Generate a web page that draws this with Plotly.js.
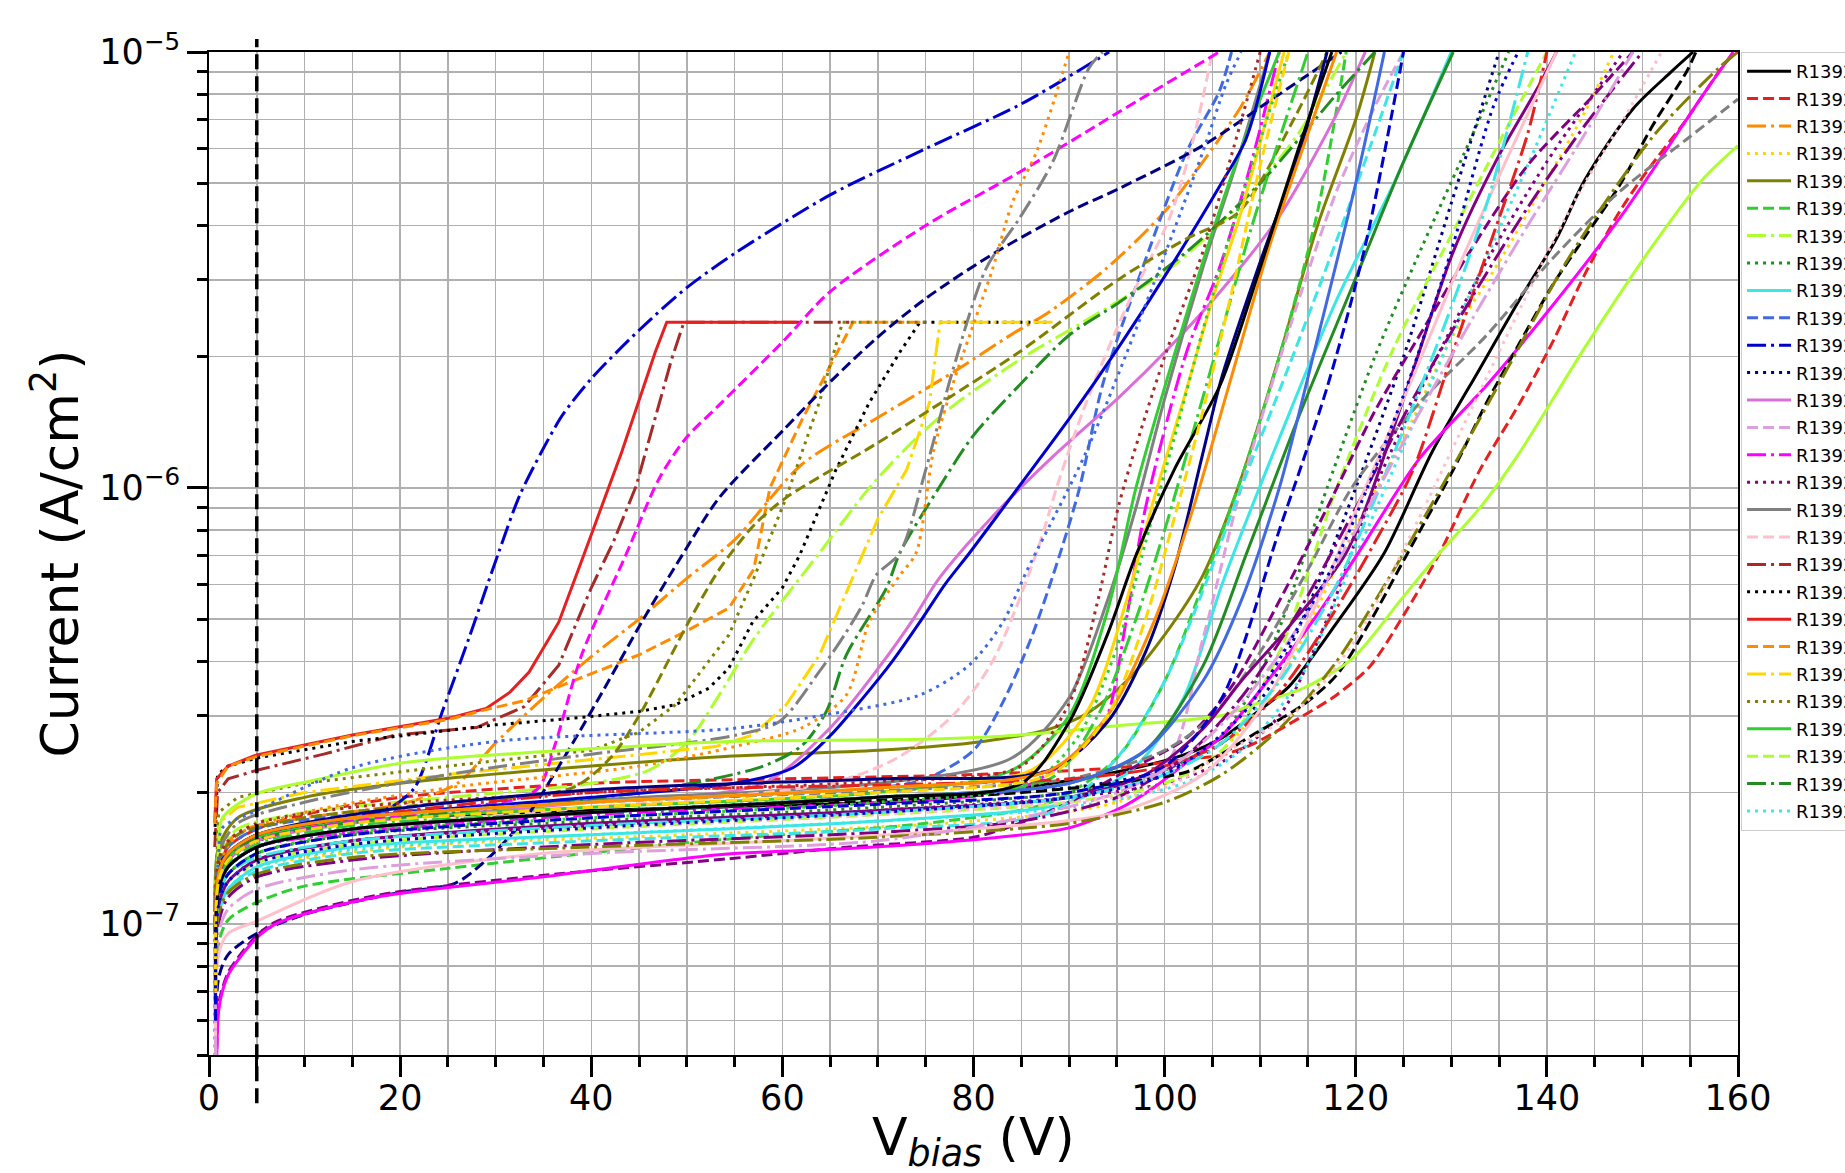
<!DOCTYPE html>
<html>
<head>
<meta charset="utf-8">
<script src="https://cdn.plot.ly/plotly-3.0.1.min.js"></script>
<style>html,body{margin:0;padding:0;background:#fff;overflow:hidden}#chart{width:1845px;height:1173px}</style>
</head>
<body>
<div id="chart"></div>
<script>
// ---------- data ----------
const seriesNames = ['R1392_01','R1392_02','R1392_03','R1392_04','R1392_05','R1392_06','R1392_07','R1392_08','R1392_09','R1392_10',
'R1392_11','R1392_12','R1392_13','R1392_14','R1392_15','R1392_16','R1392_17','R1392_18','R1392_19','R1392_20',
'R1392_21','R1392_22','R1392_23','R1392_24','R1392_25','R1392_26','R1392_27','R1392_28','R1392_29','R1392_30',
'R1392_31','R1392_32','R1392_33','R1392_34','R1392_35','R1392_36','R1392_37','R1392_38','R1392_39','R1392_40',
'R1392_41','R1392_42','R1392_43','R1392_44','R1392_45','R1392_46','R1392_47','R1392_48','R1392_49','R1392_50',
'R1392_51','R1392_52','R1392_53','R1392_54','R1392_55','R1392_56','R1392_57','R1392_58','R1392_59','R1392_60','R1392_61'];

const seriesV = [
[0.7,1,2,5,10,20,40,60,75,85,95,102,106,110,113,118,123,128,133,137,141,144,149,153,155.3],
[0.7,1,2,5,10,20,40,60,80,95,102,106,109,114.5,118,121.5,125,128.8,133,137.2,140.6,144.1,147.6,150.4,154.6,158.8,160],
[0.7,1,3,10,20,26,30,35,40,45,50,55,62,70,78,84,88,94,100,104,108,111],
[0.7,1,2,5,20,50,80,95,105,112,119.7,125,130,135,140,144,147],
[0.7,1,3,10,20,40,54,70,81,88,92,96,100,104,108,112,116,120,122],
[0.75,1,2,5,10,25,55,75,88,95,100,104,108,112,116,119],
[0.7,1,3,10,25,40,46,50,53.4,57,63.9,69.1,74,78,85,92,100.5,108,114,119],
[0.8,1,2,5,15,40,70,90,100,106,111,117,122,127,132,136],
[0.7,1,2,5,15,40,70,90,97,102,106,112,118,124,130],
[0.7,1,2,5,15,40,70,75,80,83,86,89,91.1,93.5,97,102.3,105.7,107],
[0.7,1,2,5,10,15,19,21.5,24.4,27.2,30.3,32.5,34.8,37,40,45,50,55,65,75,85,94.2],
[0.7,1,2,5,15,40,70,90,100,106,111,116,120,125,130,135],
[0.7,1,2,5,15,40,58,64.9,70.2,73.7,76.4,82,88.3,95.3,100.5,105.7,112,118,121],
[0.7,1,2,5,15,40,70,90,100,104,108,113,118,122,125],
[0.7,1,2,5,15,40,70,85,92,94,96,98,102.3,105.7,109,112],
[0.7,1,2,5,15,40,70,90,100,106,112,117,122,128,134,140,148],
[0.7,1,2,5,15,40,70,84,90,94,97,100,104,108,111],
[0.7,1,2,5,15,40,65,72,77.8,82,86.6,89,91.8,96,100.5,103,105],
[0.6,0.9,2,5,12,19.5,28,33,36.6,40,42.3,44.7,48.4,49.7,67],
[0.6,0.9,2,5,15,30,38,45,48.8,52.3,54.4,56.9,60,61.8,65.6,69.1,72.3,74.4,88],
[0.6,0.8,2,5,15,25,29,31.5,33.5,36.6,39.2,43.2,46.7,47.9,61.5],
[0.6,0.8,2,5,15,25,29,33,38,45,50,54.4,57,58.7,62.1,64.9,67.4,75],
[0.7,1,3,10,25,45,53,56.9,60.4,63.9,66,68.4,70,73,75.4,76.5,88.3],
[0.7,1,3,10,25,40,45,48.8,54.4,57,60.4,63.9,66.3,75],
[0.8,1,2,5,15,40,70,84,90,94,97,100,104,108,112],
[0.7,1,2,5,15,40,70,90,100,106,112,118,124,130,135,140],
[0.7,1,3,10,25,45,58,62.1,64.6,66.7,70.9,72.3,76.5,80,84.8,90,95.3,102.3,110,118,122],
[0.7,1,2,5,15,40,70,90,102,108,114,120,126,132,138,143],
[0.7,1,2,5,15,25,32,34.5,36.2,39,43.6,47.1,49.9,53.4,60,65,75,84.8,95.3,105.7],
[0.7,1,2,5,10,15,20,25.8,29,32.8,34.8,38.3,41.8,45.3,49.5,53.4,60,65,69.8,75,82.4,90,95.3,104,112,118.5],
[0.7,1,2,5,15,40,55,61.1,65,68.4,71.5,74.4,77,79.6,84.8,90,95.3,100.5,105.8,108.5,111],
[0.7,1,3,10,25,40,50,55.2,59.7,63.9,66.5,68.4,69.8,72.3,75,77.8,81.3,84.8,88.3,92.1,93.5],
[0.7,1,3,10,25,45,55,62.1,66.7,69.1,72.3,74,75.8,77.8,79.6,82,84.1,86.6,90],
[0.75,1,1.4,2.1,4.8,7,17.4,34.8,54.4,67,80,84.8,90,95.3,102.3,107,112,117,122,127,132,138,145,149],
[0.75,1,1.4,2.1,4.8,7,17.4,34.8,53.4,67.4,81.3,90,95.3,98.8,102.9,105.8,111,116.2,120.1,126.7,133.7,140.6,147.6,152.8,156.3,159.5],
[0.7,1,2,5,15,40,70,85,95,102.3,105.8,109.2,114.5,118,121.5,125.3,130.2,133.7,137.2,140.6,144.1,147.6,151.1,154.6,155.6],
[0.7,1,1.4,4.8,10.4,20.9,40,54.4,74.4,84.8,95.3,105.8,109.2,114.5,119.7,124.9,128.8,133,137.2,144.1,151.1,156.3,160],
[0.7,1,2,5,15,40,70,90,100,105,110,115,119.7,126.7,133.7,140.6,147.6,154.6,160],
[0.7,1,3,10,25,38,42,45,50.2,53.4,57,60.4,69.5,77.8,84.8,95.3,102.3,107.8,113.5,117],
[0.7,1,1.4,4.8,15,30,54.4,63.9,74.4,79.6,83.1,85.5,86.8,91.8,98.8,104,106.4,108],
[0.7,1,2,5,15,40,70,85,90,93,95.3,100,104,107,110],
[0.7,1,2,5,15,40,70,86,92,96,98.8,102,105,107.8,110,112.5],
[0.75,1,2,5,15,40,70,86,91,95,98,101,104,107,110,113],
[0.8,1,2,5,15,40,70,88,93,97,100,103,106,109,112,115],
[0.7,1,2,5,15,40,70,88,95,100,104,108,113,118,122,125],
[0.7,1,2,5,15,40,70,90,98,104,108,113,119,125,130.2,135,139.2,141],
[0.7,1,2,5,15,40,70,90,100,106,112,118,122,126,130,134,138,140],
[0.7,1,2,5,15,40,70,85,95,102,108,114,120,126,132,138,144,150],
[0.7,1,2,4.8,15,34.8,60,80,95,104,110,116,121,126,131,136,141],
[0.7,1,2,5,15,40,70,90,100,106,112,118,124,130,136,142.4,151.1,158,160],
[0.7,1,2,5,15,40,70,90,100,106,112,118,124,130,134,138],
[0.7,1,2,5,15,40,70,88,94,98,101,104,106,110,114,117],
[0.7,1,2,5,15,40,70,90,98,104,108.6,114,119.7,125,130.2],
[0.7,1,2,5,15,40,70,85,95,102,108,114,120,126,132,138,144,149],
[0.7,1,2,5,15,40,70,90,100,106,114,120,126,132,138,143,148,152],
[0.7,1,2,5,15,40,70,88,94,99,103,107,111,115,118],
[0.7,1,2,5,15,40,70,90,98,104,108,112,116,120,123],
[0.7,1,2,5,15,40,70,90,100,106,112,117,121,125],
[0.7,1,2,5,15,40,70,85,90,94,97,101,105.8,110,114,117.5],
[0.7,1,2,5,15,40,70,88,94,98,101,104,107,110,113],
[0.7,1,2,5,15,40,70,90,100,108,114,118.3,125.3,130,134.4,137]
];

const seriesI = [
[6e-8,1.2e-7,1.4e-7,1.55e-7,1.65e-7,1.75e-7,1.82e-7,1.87e-7,1.92e-7,2.05e-7,2.23e-7,2.44e-7,2.67e-7,3.1e-7,3.5e-7,4.9e-7,7.1e-7,1.21e-6,1.88e-6,2.67e-6,3.73e-6,5.1e-6,7.4e-6,9e-6,1e-5],
[8e-8,1.3e-7,1.5e-7,1.65e-7,1.78e-7,1.95e-7,2.1e-7,2.15e-7,2.2e-7,2.28e-7,2.38e-7,2.44e-7,2.57e-7,3.0e-7,3.35e-7,3.9e-7,5.1e-7,7.1e-7,1.1e-6,1.57e-6,2.16e-6,3.13e-6,4.3e-6,5.3e-6,7e-6,9.5e-6,1e-5],
[9e-8,1.4e-7,1.62e-7,1.75e-7,1.88e-7,2.1e-7,2.6e-7,3.3e-7,4.1e-7,5.0e-7,6.2e-7,7.6e-7,1.13e-6,1.45e-6,1.85e-6,2.25e-6,2.54e-6,3.2e-6,4.3e-6,5.6e-6,7.5e-6,1e-5],
[6e-8,1.1e-7,1.25e-7,1.35e-7,1.5e-7,1.6e-7,1.72e-7,1.9e-7,2.4e-7,3.6e-7,7.9e-7,1.3e-6,2.2e-6,3.3e-6,5.1e-6,7.3e-6,1e-5],
[1e-7,1.5e-7,1.75e-7,1.95e-7,2.1e-7,2.3e-7,2.42e-7,2.5e-7,2.62e-7,2.8e-7,3.05e-7,3.6e-7,4.6e-7,6.3e-7,1.05e-6,2.0e-6,4e-6,7e-6,1e-5],
[4e-8,9e-8,1.02e-7,1.12e-7,1.22e-7,1.34e-7,1.57e-7,1.7e-7,1.9e-7,2.4e-7,3.6e-7,6e-7,1.05e-6,2.0e-6,4.3e-6,1e-5],
[1e-7,1.45e-7,1.65e-7,1.8e-7,1.95e-7,2.1e-7,2.25e-7,2.6e-7,3.35e-7,4.5e-7,7.1e-7,1.0e-6,1.3e-6,1.55e-6,1.98e-6,2.44e-6,3.18e-6,4.5e-6,6.5e-6,1e-5],
[4e-8,1.15e-7,1.3e-7,1.45e-7,1.6e-7,1.72e-7,1.85e-7,2.0e-7,2.25e-7,2.7e-7,4.2e-7,1.0e-6,2.0e-6,3.6e-6,6.3e-6,1e-5],
[5e-8,1.05e-7,1.2e-7,1.35e-7,1.5e-7,1.6e-7,1.72e-7,1.9e-7,2.3e-7,3.3e-7,6e-7,1.3e-6,2.7e-6,5e-6,1e-5],
[9e-8,1.35e-7,1.5e-7,1.65e-7,1.78e-7,1.9e-7,2.05e-7,2.15e-7,2.5e-7,3.2e-7,4.5e-7,7e-7,1e-6,1.72e-6,2.9e-6,5.9e-6,8.1e-6,1e-5],
[8e-8,1.35e-7,1.45e-7,1.55e-7,1.65e-7,1.75e-7,1.85e-7,2.05e-7,3.06e-7,4.52e-7,7.1e-7,9.6e-7,1.21e-6,1.47e-6,1.78e-6,2.3e-6,2.88e-6,3.45e-6,4.7e-6,6.0e-6,7.6e-6,1e-5],
[7e-8,1.2e-7,1.35e-7,1.5e-7,1.65e-7,1.8e-7,1.95e-7,2.05e-7,2.25e-7,2.6e-7,3.5e-7,6e-7,1.0e-6,2.0e-6,4.5e-6,1e-5],
[8e-8,1.25e-7,1.4e-7,1.55e-7,1.7e-7,1.9e-7,2.1e-7,2.8e-7,3.9e-7,5.0e-7,6.2e-7,8.6e-7,1.18e-6,1.62e-6,2.1e-6,2.8e-6,4.2e-6,7.2e-6,1e-5],
[6e-8,1.1e-7,1.25e-7,1.4e-7,1.55e-7,1.68e-7,1.8e-7,1.95e-7,2.3e-7,4.5e-7,1e-6,2.3e-6,4.8e-6,7.5e-6,1e-5],
[7e-8,1.2e-7,1.35e-7,1.5e-7,1.62e-7,1.78e-7,1.9e-7,2.05e-7,2.6e-7,3.0e-7,5.0e-7,9e-7,2.05e-6,3.18e-6,5.5e-6,1e-5],
[6e-8,1.1e-7,1.25e-7,1.4e-7,1.55e-7,1.68e-7,1.82e-7,1.95e-7,2.1e-7,2.35e-7,3.0e-7,5.0e-7,1.0e-6,1.9e-6,3.4e-6,5.6e-6,1e-5],
[9e-8,1.3e-7,1.45e-7,1.6e-7,1.75e-7,1.92e-7,2.1e-7,2.4e-7,3.3e-7,5.5e-7,9e-7,1.6e-6,3.2e-6,6e-6,1e-5],
[7e-8,1.2e-7,1.35e-7,1.5e-7,1.65e-7,1.85e-7,2.1e-7,2.4e-7,3.0e-7,4.0e-7,7.1e-7,1.05e-6,1.57e-6,2.6e-6,4.15e-6,6.3e-6,1e-5],
[1.5e-7,2.0e-7,2.15e-7,2.25e-7,2.45e-7,2.71e-7,2.82e-7,3.15e-7,3.92e-7,5.9e-7,7.5e-7,1.01e-6,1.97e-6,2.4e-6,2.4e-6],
[1.6e-7,2.2e-7,2.3e-7,2.4e-7,2.62e-7,2.86e-7,2.96e-7,3.07e-7,3.18e-7,3.47e-7,3.86e-7,4.93e-7,5.9e-7,7.0e-7,1.1e-6,1.57e-6,2.05e-6,2.4e-6,2.4e-6],
[1.7e-7,2.15e-7,2.3e-7,2.44e-7,2.71e-7,2.96e-7,3.12e-7,3.4e-7,3.78e-7,4.92e-7,7.0e-7,1.21e-6,2.05e-6,2.4e-6,2.4e-6],
[1.7e-7,2.1e-7,2.3e-7,2.42e-7,2.7e-7,2.94e-7,3.1e-7,3.25e-7,3.6e-7,4.14e-7,4.7e-7,5.3e-7,6.5e-7,1.0e-6,1.44e-6,1.88e-6,2.4e-6,2.4e-6],
[1.1e-7,1.7e-7,1.85e-7,2.0e-7,2.2e-7,2.45e-7,2.55e-7,2.71e-7,3.18e-7,4.14e-7,5.3e-7,7e-7,8.5e-7,1.1e-6,1.57e-6,2.4e-6,2.4e-6],
[1.2e-7,1.8e-7,1.95e-7,2.1e-7,2.3e-7,2.5e-7,2.75e-7,3.18e-7,4.6e-7,6.2e-7,9.5e-7,1.58e-6,2.4e-6,2.4e-6],
[4e-8,1.25e-7,1.42e-7,1.58e-7,1.72e-7,1.85e-7,2.0e-7,2.25e-7,3.0e-7,5.2e-7,1.0e-6,1.7e-6,3.3e-6,6e-6,1e-5],
[6e-8,1.1e-7,1.25e-7,1.38e-7,1.52e-7,1.65e-7,1.78e-7,1.9e-7,2.1e-7,2.5e-7,4.2e-7,1.0e-6,2.1e-6,3.8e-6,6.2e-6,1e-5],
[8e-8,1.3e-7,1.5e-7,1.65e-7,1.8e-7,2.0e-7,2.3e-7,2.57e-7,3.07e-7,4.14e-7,5.9e-7,7.1e-7,1.01e-6,1.32e-6,1.72e-6,2.24e-6,2.67e-6,3.48e-6,5e-6,8e-6,1e-5],
[5e-8,1.05e-7,1.2e-7,1.35e-7,1.48e-7,1.6e-7,1.72e-7,1.85e-7,2.1e-7,2.5e-7,3.6e-7,7e-7,1.4e-6,2.8e-6,5.5e-6,1e-5],
[7e-8,1.2e-7,1.4e-7,1.55e-7,1.72e-7,1.83e-7,1.93e-7,2.05e-7,2.57e-7,4.14e-7,7.0e-7,1.05e-6,1.3e-6,1.55e-6,2.16e-6,2.82e-6,4e-6,5.3e-6,7.3e-6,1e-5],
[5e-8,7.5e-8,8.5e-8,9.5e-8,1.05e-7,1.12e-7,1.18e-7,1.24e-7,1.4e-7,1.71e-7,1.98e-7,2.65e-7,3.6e-7,4.93e-7,7.0e-7,9.5e-7,1.35e-6,1.75e-6,2.2e-6,2.72e-6,3.48e-6,4.3e-6,4.87e-6,6.1e-6,8e-6,1e-5],
[8e-8,1.3e-7,1.45e-7,1.6e-7,1.75e-7,1.95e-7,2.1e-7,2.28e-7,2.7e-7,3.29e-7,4.0e-7,4.93e-7,6e-7,7.1e-7,1.01e-6,1.44e-6,2.12e-6,3.18e-6,4.94e-6,6.3e-6,1e-5],
[9e-8,1.45e-7,1.7e-7,1.9e-7,2.2e-7,2.45e-7,2.6e-7,2.71e-7,2.91e-7,3.8e-7,4.6e-7,5.4e-7,6.3e-7,7.1e-7,1.1e-6,1.85e-6,3.18e-6,4.15e-6,5.6e-6,9.2e-6,1e-5],
[8e-8,1.35e-7,1.6e-7,1.8e-7,2.05e-7,2.3e-7,2.55e-7,2.82e-7,3.35e-7,4.93e-7,6.3e-7,7.1e-7,1.21e-6,1.72e-6,2.24e-6,3.18e-6,4.53e-6,5.9e-6,1e-5],
[4e-8,6.5e-8,7.1e-8,7.8e-8,9.3e-8,1.01e-7,1.16e-7,1.29e-7,1.41e-7,1.5e-7,1.58e-7,1.7e-7,1.9e-7,2.2e-7,2.67e-7,3.5e-7,5.5e-7,9e-7,1.5e-6,2.3e-6,3.5e-6,5.5e-6,8e-6,1e-5],
[4e-8,6.3e-8,7e-8,7.7e-8,9.2e-8,1.0e-7,1.15e-7,1.28e-7,1.44e-7,1.49e-7,1.57e-7,1.66e-7,1.84e-7,2.05e-7,2.4e-7,2.67e-7,3.66e-7,5.2e-7,7.0e-7,1.17e-6,1.72e-6,2.62e-6,4.15e-6,6.1e-6,7.95e-6,1e-5],
[7e-8,1.2e-7,1.35e-7,1.5e-7,1.65e-7,1.8e-7,1.92e-7,2.0e-7,2.1e-7,2.23e-7,2.44e-7,2.71e-7,3.18e-7,3.72e-7,4.93e-7,7.0e-7,1.1e-6,1.57e-6,2.16e-6,2.92e-6,3.8e-6,4.94e-6,6.8e-6,9e-6,1e-5],
[1e-7,1.5e-7,1.75e-7,1.98e-7,2.12e-7,2.35e-7,2.52e-7,2.62e-7,2.65e-7,2.71e-7,2.85e-7,3.0e-7,3.18e-7,3.47e-7,4.07e-7,5.6e-7,7.1e-7,9e-7,1.21e-6,2.12e-6,3.6e-6,5.1e-6,6.1e-6],
[8e-8,1.3e-7,1.45e-7,1.6e-7,1.75e-7,1.9e-7,2.02e-7,2.15e-7,2.5e-7,3.0e-7,4.2e-7,6.5e-7,1.01e-6,1.57e-6,2.24e-6,3.36e-6,4.78e-6,6.3e-6,7.8e-6],
[9e-8,1.4e-7,1.6e-7,1.75e-7,1.9e-7,2.05e-7,2.4e-7,3.0e-7,4.93e-7,6.5e-7,8.2e-7,9.5e-7,1.25e-6,1.63e-6,2.05e-6,3.02e-6,3.73e-6,4.3e-6,7e-6,1e-5],
[1e-7,1.45e-7,1.66e-7,1.81e-7,2.28e-7,2.62e-7,2.8e-7,3.0e-7,3.35e-7,3.93e-7,4.93e-7,6.4e-7,7.3e-7,1.21e-6,2.92e-6,5.9e-6,8.4e-6,1e-5],
[9e-8,1.4e-7,1.55e-7,1.7e-7,1.85e-7,2.0e-7,2.12e-7,2.3e-7,3.2e-7,5.5e-7,9.3e-7,2.0e-6,3.48e-6,5.8e-6,1e-5],
[8e-8,1.3e-7,1.45e-7,1.6e-7,1.75e-7,1.9e-7,2.05e-7,2.25e-7,3.1e-7,5.5e-7,9.3e-7,1.6e-6,2.7e-6,4.15e-6,6.2e-6,1e-5],
[3e-8,1.15e-7,1.3e-7,1.45e-7,1.62e-7,1.75e-7,1.9e-7,2.1e-7,2.7e-7,4.3e-7,7.5e-7,1.3e-6,2.3e-6,3.9e-6,6.3e-6,1e-5],
[4e-8,1.2e-7,1.38e-7,1.52e-7,1.68e-7,1.8e-7,1.95e-7,2.15e-7,3.0e-7,5e-7,8e-7,1.35e-6,2.3e-6,3.9e-6,6.3e-6,1e-5],
[5e-8,1.05e-7,1.2e-7,1.32e-7,1.45e-7,1.55e-7,1.65e-7,1.8e-7,2.4e-7,3.6e-7,5.8e-7,1.0e-6,1.9e-6,3.7e-6,6.5e-6,1e-5],
[6e-8,1.1e-7,1.25e-7,1.4e-7,1.55e-7,1.7e-7,1.82e-7,1.95e-7,2.2e-7,2.8e-7,3.6e-7,4.8e-7,7.1e-7,1.6e-6,3.48e-6,5.8e-6,8.4e-6,1e-5],
[8e-8,1.3e-7,1.45e-7,1.6e-7,1.75e-7,2.0e-7,2.08e-7,2.15e-7,2.3e-7,2.6e-7,3.4e-7,5.3e-7,7.5e-7,1.1e-6,2.0e-6,3.6e-6,6.5e-6,1e-5],
[5e-8,1e-7,1.15e-7,1.28e-7,1.4e-7,1.52e-7,1.62e-7,1.72e-7,1.95e-7,2.4e-7,3.3e-7,5.2e-7,9e-7,1.6e-6,2.7e-6,4.4e-6,6.8e-6,1e-5],
[5e-8,8.5e-8,9.5e-8,1.01e-7,1.25e-7,1.45e-7,1.55e-7,1.65e-7,1.8e-7,2.2e-7,3.1e-7,5.5e-7,1.0e-6,1.8e-6,3.3e-6,5.8e-6,1e-5],
[6e-8,1.05e-7,1.18e-7,1.3e-7,1.42e-7,1.5e-7,1.58e-7,1.7e-7,1.9e-7,2.2e-7,2.8e-7,4e-7,6.5e-7,1.1e-6,1.9e-6,3.4e-6,6.4e-6,9.2e-6,1e-5],
[6e-8,1.15e-7,1.3e-7,1.42e-7,1.55e-7,1.68e-7,1.8e-7,1.95e-7,2.2e-7,2.6e-7,3.6e-7,6e-7,1.2e-6,2.6e-6,4.7e-6,1e-5],
[8e-8,1.3e-7,1.45e-7,1.6e-7,1.78e-7,2.03e-7,2.15e-7,2.25e-7,2.9e-7,4.2e-7,6.5e-7,1.2e-6,1.8e-6,3.3e-6,5.8e-6,1e-5],
[7e-8,1.2e-7,1.35e-7,1.5e-7,1.65e-7,1.8e-7,1.95e-7,2.1e-7,2.5e-7,3.9e-7,7.1e-7,1.45e-6,2.92e-6,5.6e-6,1e-5],
[5e-8,9.5e-8,1.08e-7,1.2e-7,1.33e-7,1.45e-7,1.55e-7,1.75e-7,2.0e-7,2.4e-7,3.2e-7,4.8e-7,8e-7,1.4e-6,2.4e-6,4e-6,6.5e-6,1e-5],
[6e-8,1.1e-7,1.25e-7,1.38e-7,1.52e-7,1.65e-7,1.78e-7,1.9e-7,2.05e-7,2.45e-7,3.1e-7,4.5e-7,8e-7,1.5e-6,2.8e-6,4.6e-6,7e-6,1e-5],
[8e-8,1.3e-7,1.45e-7,1.6e-7,1.75e-7,1.9e-7,2.05e-7,2.25e-7,3e-7,5e-7,9e-7,1.8e-6,3.6e-6,6.5e-6,1e-5],
[7e-8,1.2e-7,1.35e-7,1.5e-7,1.65e-7,1.8e-7,1.95e-7,2.1e-7,2.5e-7,3.6e-7,5.5e-7,1.0e-6,2.2e-6,5e-6,1e-5],
[6e-8,1.15e-7,1.3e-7,1.45e-7,1.6e-7,1.75e-7,1.88e-7,2.0e-7,2.3e-7,3.3e-7,8e-7,1.7e-6,3.6e-6,1e-5],
[7e-8,1.2e-7,1.35e-7,1.5e-7,1.65e-7,1.8e-7,1.95e-7,2.1e-7,2.9e-7,4.6e-7,7e-7,1.1e-6,1.72e-6,3.2e-6,6e-6,1e-5],
[7e-8,1.25e-7,1.4e-7,1.55e-7,1.7e-7,1.85e-7,2.0e-7,2.2e-7,3.0e-7,5.0e-7,8.5e-7,1.5e-6,2.8e-6,5.5e-6,1e-5],
[6e-8,1.1e-7,1.25e-7,1.38e-7,1.52e-7,1.66e-7,1.8e-7,1.95e-7,2.2e-7,3e-7,4.8e-7,7.1e-7,1.7e-6,3.5e-6,7.5e-6,1e-5]
];

const yTickVals = [1e-7, 1e-6, 1e-5];
const yTickText = ['10<sup>\u22127</sup>', '10<sup>\u22126</sup>', '10<sup>\u22125</sup>'];
const yMinorVals = [5e-8,6e-8,7e-8,8e-8,9e-8,2e-7,3e-7,4e-7,5e-7,6e-7,7e-7,8e-7,9e-7,2e-6,3e-6,4e-6,5e-6,6e-6,7e-6,8e-6,9e-6];
const xTickVals = [0,20,40,60,80,100,120,140,160];
const xTitleText = 'V<sub><i>bias</i></sub> (V)';
const yTitleText = 'Current (A/cm<sup>2</sup>)';
const markerVoltage = 5;

// ---------- styles ----------
const palette = ['#000000','#e52020','#ff8c00','#ffd700','#808000','#32cd32','#adff2f','#228b22','#3ce6e6','#4169e1',
                 '#0000cd','#000080','#da70d6','#dda0dd','#ff00ff','#800080','#808080','#ffc0cb','#a52a2a'];
const dashes = ['solid','11px,5px','19px,5px,3px,5px','3px,5px'];
// [colour index, dash index] for every series (first 28 follow the legend cycle)
const seriesStyle = [];
for (let i = 0; i < 28; i++) seriesStyle.push([i % 19, i % 4]);
seriesStyle.push([14,1],[11,1],[10,0],[16,2],[2,3],[15,1],[14,0],[0,1],[6,0],[16,1],
                 [4,1],[9,3],[18,3],[3,0],[5,3],[5,2],[8,1],[15,0],[1,2],[15,2],
                 [17,0],[4,2],[8,2],[11,0],[7,0],[13,2],[17,3],[2,0],[9,0],[10,1],
                 [0,0],[3,1],[10,3]);
const linearSeries = [18,19,20,21,22,23];

const traces = seriesNames.map((nm, i) => ({
  type: 'scatter', mode: 'lines', name: nm,
  x: seriesV[i], y: seriesI[i],
  showlegend: i < 28, legendgroup: 'g' + i,
  hoverinfo: 'skip',
  line: {color: palette[seriesStyle[i][0]], dash: dashes[seriesStyle[i][1]], width: 3,
         shape: linearSeries.includes(i) ? 'linear' : 'spline', smoothing: 0.8}
}));

const axisFont = {family: 'DejaVu Sans', size: 35, color: '#000'};
const titleFont = {family: 'DejaVu Sans', size: 52, color: '#000'};

const layout = {
  width: 1845, height: 1173,
  margin: {l: 209, r: 107, t: 52, b: 118, autoexpand: false},
  paper_bgcolor: '#fff', plot_bgcolor: '#fff',
  font: {family: 'DejaVu Sans', color: '#000'},
  showlegend: true,
  legend: {x: 1.002, xanchor: 'left', y: 1, yanchor: 'top', bgcolor: '#fff', bordercolor: '#cccccc', borderwidth: 1,
           font: {family: 'DejaVu Sans', size: 18, color: '#000'}, traceorder: 'grouped', tracegroupgap: 1, itemwidth: 44},
  xaxis: {
    range: [0, 160], tickmode: 'array', tickvals: xTickVals, ticks: 'outside', ticklen: 20, tickwidth: 3, tickcolor: '#000',
    showline: true, linecolor: '#000', linewidth: 2, mirror: true, zeroline: false, ticklabelstandoff: -9,
    showgrid: true, gridcolor: '#b0b0b0', gridwidth: 1.5, tickfont: axisFont,
    minor: {tickmode: 'linear', tick0: 0, dtick: 5, ticks: 'outside', ticklen: 10, tickwidth: 3, tickcolor: '#000',
            showgrid: true, gridcolor: '#b0b0b0', gridwidth: 1.5}
  },
  yaxis: {
    type: 'log', range: [Math.log10(5e-8), -5], tickmode: 'array', tickvals: yTickVals, ticktext: yTickText,
    ticks: 'outside', ticklen: 20, tickwidth: 3, tickcolor: '#000',
    showline: true, linecolor: '#000', linewidth: 2, mirror: true, zeroline: false,
    showgrid: true, gridcolor: '#b0b0b0', gridwidth: 1.5, tickfont: axisFont,
    minor: {tickmode: 'array', tickvals: yMinorVals, ticks: 'outside', ticklen: 10, tickwidth: 3, tickcolor: '#000',
            showgrid: true, gridcolor: '#b0b0b0', gridwidth: 1.5},
    title: {text: yTitleText, font: titleFont, standoff: 4}
  },
  annotations: [{text: xTitleText, xref: 'paper', yref: 'paper', x: 0.5, y: -0.0855, xanchor: 'center', yanchor: 'middle',
                 showarrow: false, font: titleFont}],
  shapes: [{type: 'line', xref: 'x', yref: 'paper', x0: markerVoltage, x1: markerVoltage, y0: -0.048, y1: 1.013,
            line: {color: '#000', width: 3.5, dash: '15px,7px'}, layer: 'above'}]
};

Plotly.newPlot('chart', traces, layout, {displayModeBar: false, staticPlot: true});
</script>
</body>
</html>
